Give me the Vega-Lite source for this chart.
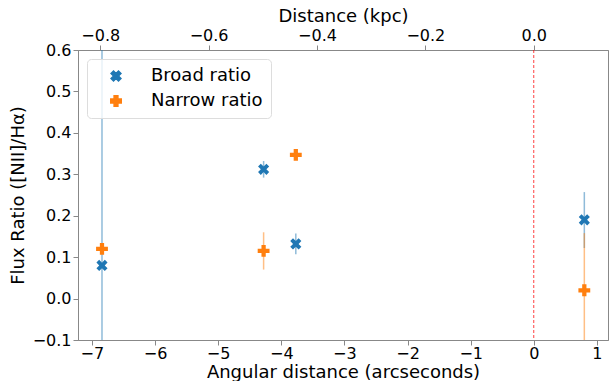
{
  "$schema": "https://vega.github.io/schema/vega-lite/v6.json",
  "width": 530,
  "height": 290,
  "autosize": "none",
  "padding": {"left": 78, "top": 50, "right": 1, "bottom": 41},
  "config": {
    "font": "DejaVu Sans",
    "view": {"stroke": "#888", "strokeWidth": 1},
    "axis": {
      "grid": false,
      "domainColor": "#888",
      "tickColor": "#888",
      "tickSize": 5,
      "labelFontSize": 16,
      "labelColor": "#000",
      "titleFontSize": 18,
      "titleFontWeight": "normal",
      "titleColor": "#000",
      "labelFont": "DejaVu Sans",
      "titleFont": "DejaVu Sans",
      "labelPadding": 2
    },
    "legend": {
      "labelFontSize": 18,
      "labelFont": "DejaVu Sans",
      "labelColor": "#000"
    }
  },
  "datasets": {
    "pts": [
      {"series": "Broad ratio", "x": -6.84, "y": 0.08, "lo": -0.55, "hi": 0.71},
      {"series": "Broad ratio", "x": -4.28, "y": 0.312, "lo": 0.292, "hi": 0.332},
      {"series": "Broad ratio", "x": -3.77, "y": 0.132, "lo": 0.107, "hi": 0.157},
      {"series": "Broad ratio", "x": 0.80, "y": 0.19, "lo": 0.122, "hi": 0.257},
      {"series": "Narrow ratio", "x": -6.84, "y": 0.12, "lo": 0.11, "hi": 0.13},
      {"series": "Narrow ratio", "x": -4.28, "y": 0.115, "lo": 0.07, "hi": 0.16},
      {"series": "Narrow ratio", "x": -3.77, "y": 0.347, "lo": 0.338, "hi": 0.356},
      {"series": "Narrow ratio", "x": 0.80, "y": 0.02, "lo": -0.118, "hi": 0.158}
    ],
    "zero": [{"kpc": 0}]
  },
  "layer": [
    {
      "data": {"name": "pts"},
      "layer": [
        {
          "mark": {"type": "rule", "clip": true, "strokeWidth": 1.5, "strokeOpacity": 0.5},
          "encoding": {
            "x": {"field": "x", "type": "quantitative",
                  "scale": {"domain": [-7.22, 1.175], "nice": false, "zero": false},
                  "axis": {"title": "Angular distance (arcseconds)", "values": [-7,-6,-5,-4,-3,-2,-1,0,1], "format": "d", "orient": "bottom", "labelPadding": 0, "titlePadding": 2}},
            "y": {"field": "lo", "type": "quantitative",
                  "scale": {"domain": [-0.1, 0.6], "nice": false, "zero": false},
                  "axis": {"title": "Flux Ratio ([NII]/Hα)", "values": [-0.1,0,0.1,0.2,0.3,0.4,0.5,0.6], "format": ".1f", "titlePadding": 5}},
            "y2": {"field": "hi"},
            "color": {"field": "series", "type": "nominal",
                      "scale": {"domain": ["Broad ratio", "Narrow ratio"], "range": ["#1f77b4", "#ff7f0e"]}}
          }
        },
        {
          "mark": {"type": "point", "filled": true, "opacity": 1, "size": 140, "clip": true},
          "encoding": {
            "x": {"field": "x", "type": "quantitative"},
            "y": {"field": "y", "type": "quantitative"},
            "color": {"field": "series", "type": "nominal"},
            "shape": {"field": "series", "type": "nominal",
                      "scale": {"domain": ["Broad ratio", "Narrow ratio"],
                                "range": ["M-0.474,-0.94L0,-0.467L0.474,-0.94L0.94,-0.474L0.467,0L0.94,0.474L0.474,0.94L0,0.467L-0.474,0.94L-0.94,0.474L-0.467,0L-0.94,-0.474Z",
                                          "M-1,-0.36L-0.36,-0.36L-0.36,-1L0.36,-1L0.36,-0.36L1,-0.36L1,0.36L0.36,0.36L0.36,1L-0.36,1L-0.36,0.36L-1,0.36Z"]},
                      "legend": {"title": null, "orient": "none", "legendX": 9, "legendY": 9,
                                 "strokeColor": "#ddd", "fillColor": "rgba(255,255,255,0.8)", "cornerRadius": 4,
                                 "padding": 8, "rowPadding": 7, "symbolSize": 110, "labelOffset": 26,
                                 "symbolOffset": 12, "symbolOpacity": 1, "symbolType": "circle"}}
          }
        }
      ]
    },
    {
      "data": {"name": "zero"},
      "mark": {"type": "rule", "color": "#ff0000", "opacity": 0.75, "strokeDash": [3, 2], "strokeWidth": 1},
      "encoding": {
        "x": {"field": "kpc", "type": "quantitative",
              "scale": {"domain": [-0.841, 0.137], "nice": false, "zero": false},
              "axis": {"orient": "top", "title": "Distance (kpc)", "values": [-0.8,-0.6,-0.4,-0.2,0], "format": ".1f", "titlePadding": 2}}
      }
    }
  ],
  "resolve": {"scale": {"x": "independent"}, "axis": {"x": "independent"}}
}
